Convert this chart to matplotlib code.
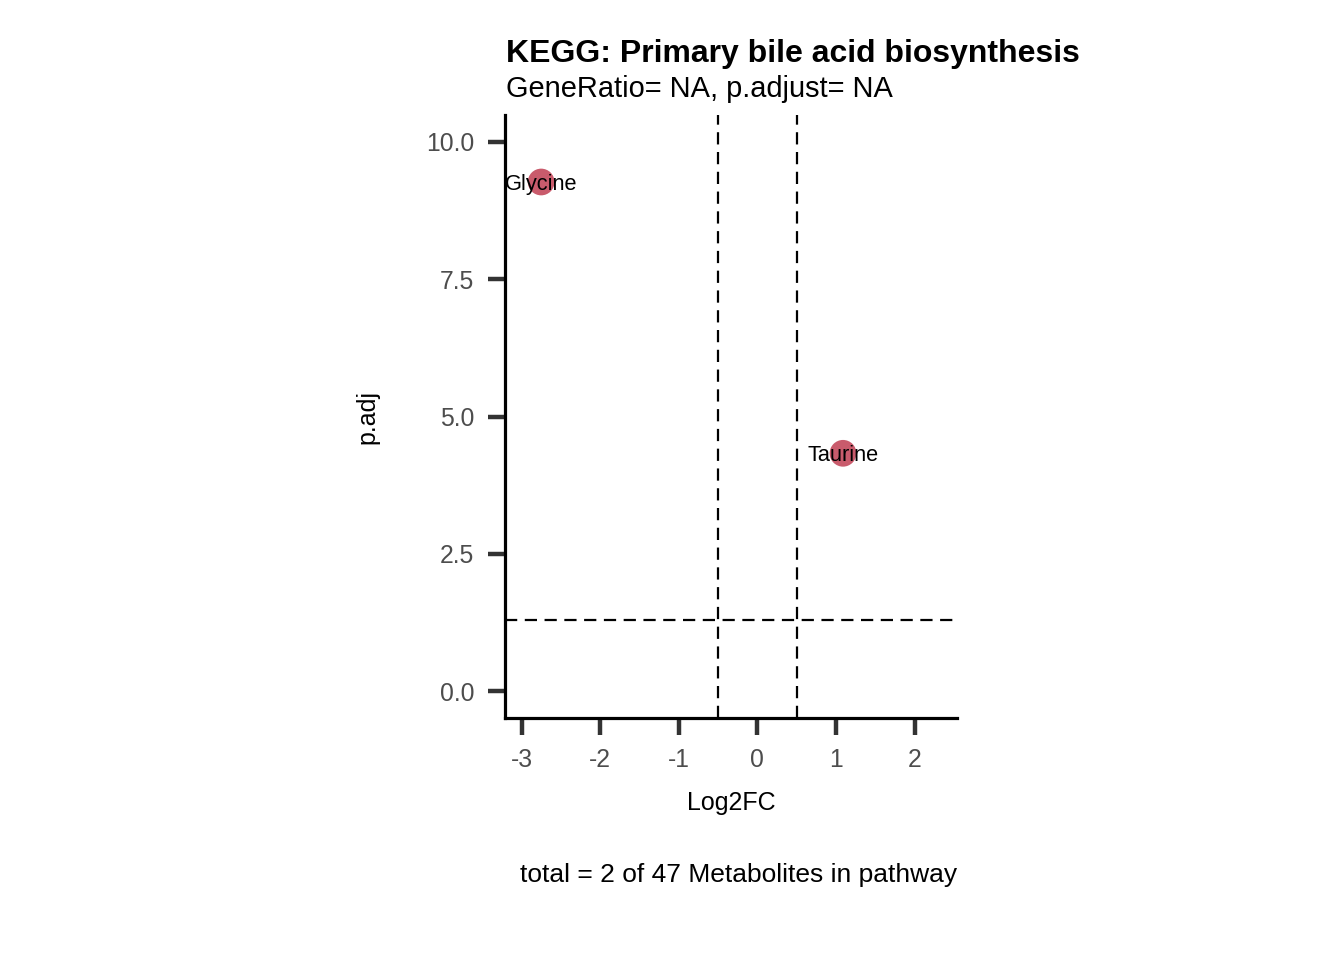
import matplotlib
matplotlib.use("Agg")
import matplotlib.pyplot as plt

# Data
metabolites = ["Glycine", "Taurine"]
log2fc = [-2.75, 1.09]
padj = [9.27, 4.33]
fc_cut = [-0.5, 0.5]
p_cut = 1.301
x_ticks = [-3, -2, -1, 0, 1, 2]
y_ticks = [0.0, 2.5, 5.0, 7.5, 10.0]
y_ticklabels = ["0.0", "2.5", "5.0", "7.5", "10.0"]

title = "KEGG: Primary bile acid biosynthesis"
subtitle = "GeneRatio= NA, p.adjust= NA"
caption = "total = 2 of 47 Metabolites in pathway"

plt.rcParams['font.family'] = ['Liberation Sans', 'DejaVu Sans']

W, H = 1344, 960
fig = plt.figure(figsize=(W / 100, H / 100), dpi=100)
ax = fig.add_axes([505 / W, 1 - 718 / H, (957 - 505) / W, (718 - 115) / H])

ax.set_xlim(-3.21, 2.54)
ax.set_ylim(-0.49, 10.49)

dash = (5.5, 3.4)
for v in fc_cut:
    ax.axvline(v, color='black', lw=1.6, linestyle=(0, dash), zorder=1)
ax.axhline(p_cut, color='black', lw=1.6, linestyle=(0, dash), zorder=1)

ax.scatter(log2fc, padj, s=370, color='#C95B6C', edgecolors='none', zorder=2)
for name, x, y in zip(metabolites, log2fc, padj):
    ax.text(x, y, name, ha='center', va='center_baseline', fontsize=15.7,
            color='black', zorder=3)

for s in ['top', 'right']:
    ax.spines[s].set_visible(False)
for s in ['left', 'bottom']:
    ax.spines[s].set_linewidth(2.3)
    ax.spines[s].set_color('black')

ax.set_xticks(x_ticks)
ax.set_xticklabels([str(t) for t in x_ticks])
ax.set_yticks(y_ticks)
ax.set_yticklabels(y_ticklabels)
ax.tick_params(axis='both', length=12, width=3.2, color='#333333',
               labelsize=17.8, labelcolor='#4D4D4D')
ax.tick_params(axis='y', pad=10)
ax.tick_params(axis='x', pad=9.5)

ax.set_xlabel("Log2FC", fontsize=18, labelpad=14)
ax.set_ylabel("p.adj", fontsize=18, labelpad=34)

fig.text(506 / W, 1 - 62 / H, title, fontsize=23, fontweight='bold', ha='left', va='baseline')
fig.text(506 / W, 1 - 97 / H, subtitle, fontsize=20.9, ha='left', va='baseline')
fig.text(957 / W, 1 - 875 / H, caption, fontsize=19, ha='right', va='center')

fig.savefig("out.png", dpi=100)
